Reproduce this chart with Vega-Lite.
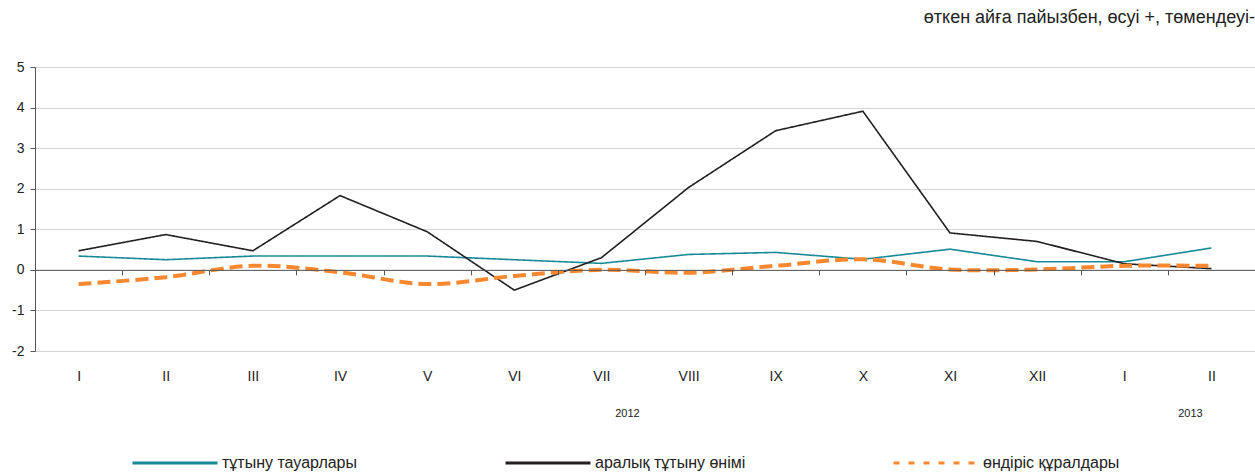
{
  "$schema": "https://vega.github.io/schema/vega-lite/v6.json",
  "autosize": {"type": "none"},
  "padding": {"left": 35, "top": 67, "right": 0, "bottom": 122},
  "width": 1220,
  "height": 284,
  "background": "white",
  "config": {
    "font": "Liberation Sans",
    "view": {"stroke": null}
  },
  "title": {
    "text": "өткен айға пайызбен, өсуі +, төмендеуі-",
    "anchor": "end",
    "frame": "group",
    "fontSize": 18,
    "fontWeight": "normal",
    "color": "#222222",
    "offset": 33
  },
  "datasets": {
    "series": [
      {"key": "I|2012", "series": "тұтыну тауарлары", "value": 0.34},
      {"key": "II|2012", "series": "тұтыну тауарлары", "value": 0.25},
      {"key": "III|2012", "series": "тұтыну тауарлары", "value": 0.34},
      {"key": "IV|2012", "series": "тұтыну тауарлары", "value": 0.34},
      {"key": "V|2012", "series": "тұтыну тауарлары", "value": 0.34},
      {"key": "VI|2012", "series": "тұтыну тауарлары", "value": 0.25},
      {"key": "VII|2012", "series": "тұтыну тауарлары", "value": 0.16},
      {"key": "VIII|2012", "series": "тұтыну тауарлары", "value": 0.38},
      {"key": "IX|2012", "series": "тұтыну тауарлары", "value": 0.43},
      {"key": "X|2012", "series": "тұтыну тауарлары", "value": 0.26},
      {"key": "XI|2012", "series": "тұтыну тауарлары", "value": 0.51},
      {"key": "XII|2012", "series": "тұтыну тауарлары", "value": 0.2},
      {"key": "I|2013", "series": "тұтыну тауарлары", "value": 0.2},
      {"key": "II|2013", "series": "тұтыну тауарлары", "value": 0.54},
      {"key": "I|2012", "series": "аралық тұтыну өнімі", "value": 0.47},
      {"key": "II|2012", "series": "аралық тұтыну өнімі", "value": 0.87},
      {"key": "III|2012", "series": "аралық тұтыну өнімі", "value": 0.47},
      {"key": "IV|2012", "series": "аралық тұтыну өнімі", "value": 1.83},
      {"key": "V|2012", "series": "аралық тұтыну өнімі", "value": 0.94},
      {"key": "VI|2012", "series": "аралық тұтыну өнімі", "value": -0.5},
      {"key": "VII|2012", "series": "аралық тұтыну өнімі", "value": 0.3},
      {"key": "VIII|2012", "series": "аралық тұтыну өнімі", "value": 2.03},
      {"key": "IX|2012", "series": "аралық тұтыну өнімі", "value": 3.43},
      {"key": "X|2012", "series": "аралық тұтыну өнімі", "value": 3.91},
      {"key": "XI|2012", "series": "аралық тұтыну өнімі", "value": 0.91},
      {"key": "XII|2012", "series": "аралық тұтыну өнімі", "value": 0.7},
      {"key": "I|2013", "series": "аралық тұтыну өнімі", "value": 0.15},
      {"key": "II|2013", "series": "аралық тұтыну өнімі", "value": 0.03},
      {"key": "I|2012", "series": "өндіріс құралдары", "value": -0.35},
      {"key": "II|2012", "series": "өндіріс құралдары", "value": -0.18},
      {"key": "III|2012", "series": "өндіріс құралдары", "value": 0.1},
      {"key": "IV|2012", "series": "өндіріс құралдары", "value": -0.06},
      {"key": "V|2012", "series": "өндіріс құралдары", "value": -0.35},
      {"key": "VI|2012", "series": "өндіріс құралдары", "value": -0.15},
      {"key": "VII|2012", "series": "өндіріс құралдары", "value": 0.0},
      {"key": "VIII|2012", "series": "өндіріс құралдары", "value": -0.07},
      {"key": "IX|2012", "series": "өндіріс құралдары", "value": 0.1},
      {"key": "X|2012", "series": "өндіріс құралдары", "value": 0.26},
      {"key": "XI|2012", "series": "өндіріс құралдары", "value": 0.01},
      {"key": "XII|2012", "series": "өндіріс құралдары", "value": 0.01},
      {"key": "I|2013", "series": "өндіріс құралдары", "value": 0.1},
      {"key": "II|2013", "series": "өндіріс құралдары", "value": 0.1}
    ],
    "year2012": [
      {"key": "VII|2012", "year": "2012"}
    ],
    "year2013": [
      {"key": "II|2013", "year": "2013"}
    ]
  },
  "encoding": {
    "x": {
      "field": "key",
      "type": "ordinal",
      "sort": ["I|2012","II|2012","III|2012","IV|2012","V|2012","VI|2012","VII|2012","VIII|2012","IX|2012","X|2012","XI|2012","XII|2012","I|2013","II|2013"],
      "scale": {"type": "band", "paddingInner": 0, "paddingOuter": 0},
      "axis": {
        "title": null,
        "labelExpr": "split(datum.label, '|')[0]",
        "labelAngle": 0,
        "labelFontSize": 14,
        "labelColor": "#222222",
        "labelPadding": 95,
        "offset": -81.14,
        "domainColor": "#555555",
        "tickColor": "#555555",
        "tickSize": 5,
        "tickBand": "extent",
        "grid": false,
        "zindex": 1
      }
    },
    "y": {
      "type": "quantitative",
      "scale": {"domain": [-2, 5], "nice": false, "zero": false},
      "axis": {
        "title": null,
        "values": [-2, -1, 0, 1, 2, 3, 4, 5],
        "labelExpr": "toString(datum.value)",
        "labelFontSize": 14,
        "labelColor": "#222222",
        "labelPadding": 6,
        "domainColor": "#555555",
        "tickColor": "#555555",
        "tickSize": 5,
        "gridColor": "#d4d4d4",
        "gridWidth": 1
      }
    }
  },
  "layer": [
    {
      "data": {"name": "series"},
      "transform": [{"filter": "datum.series !== 'өндіріс құралдары'"}],
      "mark": {"type": "line", "interpolate": "linear", "strokeWidth": 1.6},
      "encoding": {
        "y": {"field": "value", "type": "quantitative"},
        "color": {
          "field": "series",
          "type": "nominal",
          "scale": {
            "domain": ["тұтыну тауарлары", "аралық тұтыну өнімі", "өндіріс құралдары"],
            "range": ["#178a98", "#231f20", "#f7882f"]
          },
          "legend": {
            "title": null,
            "orient": "none",
            "direction": "horizontal",
            "legendX": 96,
            "legendY": 352,
            "symbolType": "stroke",
            "symbolSize": 7225,
            "symbolStrokeWidth": 3,
            "labelFontSize": 16,
            "labelColor": "#222222",
            "labelOffset": 3,
            "labelLimit": 300,
            "columnPadding": 141
          }
        },
        "strokeDash": {
          "field": "series",
          "type": "nominal",
          "scale": {
            "domain": ["тұтыну тауарлары", "аралық тұтыну өнімі", "өндіріс құралдары"],
            "range": [[1, 0], [1, 0], [6, 9]]
          },
          "legend": null
        }
      }
    },
    {
      "data": {"name": "series"},
      "transform": [{"filter": "datum.series === 'өндіріс құралдары'"}],
      "mark": {"type": "line", "interpolate": "catmull-rom", "strokeWidth": 4, "strokeDash": [13, 6]},
      "encoding": {
        "y": {"field": "value", "type": "quantitative"},
        "color": {"field": "series", "type": "nominal"}
      }
    },
    {
      "data": {"name": "year2012"},
      "mark": {"type": "text", "fontSize": 11, "color": "#222222", "dx": 26, "dy": 63},
      "encoding": {
        "y": {"datum": -2},
        "text": {"field": "year"}
      }
    },
    {
      "data": {"name": "year2013"},
      "mark": {"type": "text", "fontSize": 11, "color": "#222222", "dx": -21, "dy": 63},
      "encoding": {
        "y": {"datum": -2},
        "text": {"field": "year"}
      }
    }
  ]
}
